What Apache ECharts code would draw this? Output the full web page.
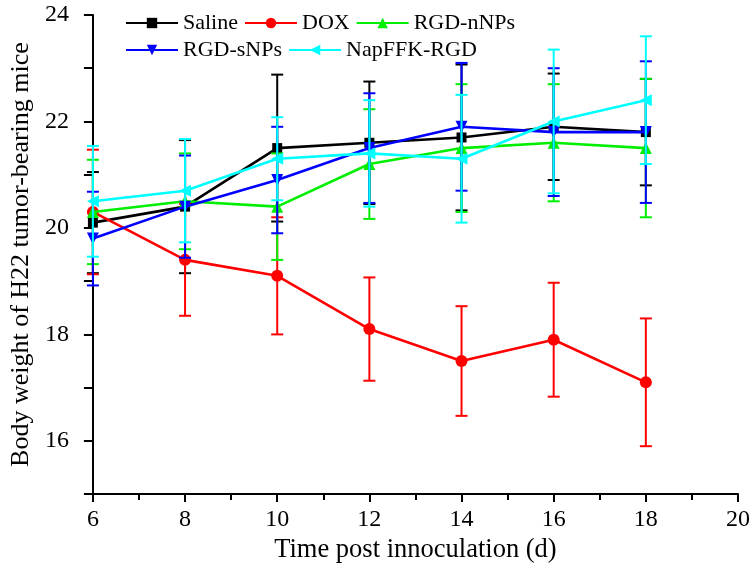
<!DOCTYPE html>
<html>
<head>
<meta charset="utf-8">
<script src="https://cdn.jsdelivr.net/npm/echarts@6/dist/echarts.min.js"></script>
<style>
  html, body { margin: 0; padding: 0; background: #ffffff; }
  #chart { width: 753px; height: 569px; }
</style>
</head>
<body>
<div id="chart"></div>
<script>
// Days after inoculation
var days = [6, 8, 10, 12, 14, 16, 18];

// Mean body weight (g) and standard deviation per group
var saline     = [20.1, 20.4, 21.5, 21.6, 21.7, 21.9, 21.8];
var salineErr  = [0.95, 1.25, 1.38, 1.15, 1.37, 1.0, 1.0];
var dox        = [20.3, 19.4, 19.1, 18.1, 17.5, 17.9, 17.1];
var doxErr     = [1.17, 1.05, 1.1, 0.97, 1.03, 1.07, 1.2];
var rgdN       = [20.3, 20.5, 20.4, 21.2, 21.5, 21.6, 21.5];
var rgdNErr    = [0.98, 0.9, 1.0, 1.03, 1.2, 1.1, 1.3];
var rgdS       = [19.8, 20.4, 20.9, 21.5, 21.9, 21.8, 21.8];
var rgdSErr    = [0.88, 0.96, 1.0, 1.03, 1.2, 1.2, 1.33];
var napffk     = [20.5, 20.7, 21.3, 21.4, 21.3, 22.0, 22.4];
var napffkErr  = [1.04, 0.97, 0.78, 1.0, 1.2, 1.35, 1.2];

var groupNames = ['Saline', 'DOX', 'RGD-nNPs', 'RGD-sNPs', 'NapFFK-RGD'];

var groups = [
  { name: groupNames[0], mean: saline, err: salineErr, color: '#000000', symbol: 'rect', size: 10, rotate: 0 },
  { name: groupNames[1], mean: dox,    err: doxErr,    color: '#ff0000', symbol: 'circle', size: 12, rotate: 0 },
  { name: groupNames[2], mean: rgdN,   err: rgdNErr,   color: '#00ee00', symbol: 'triangle', size: 12, rotate: 0 },
  { name: groupNames[3], mean: rgdS,   err: rgdSErr,   color: '#0000ff', symbol: 'triangle', size: 12, rotate: 180 },
  { name: groupNames[4], mean: napffk, err: napffkErr, color: '#00ffff', symbol: 'triangle', size: 12, rotate: 90 }
];

var serif = '"Liberation Serif", "Times New Roman", serif';

function errorBarRenderer(color) {
  return function (params, api) {
    var x = api.value(0);
    var top = api.coord([x, api.value(2)]);
    var bot = api.coord([x, api.value(1)]);
    var half = 6;
    var style = { stroke: color, lineWidth: 2 };
    return {
      type: 'group',
      children: [
        { type: 'line', shape: { x1: top[0], y1: top[1], x2: bot[0], y2: bot[1] }, style: style },
        { type: 'line', shape: { x1: top[0] - half, y1: top[1], x2: top[0] + half, y2: top[1] }, style: style },
        { type: 'line', shape: { x1: bot[0] - half, y1: bot[1], x2: bot[0] + half, y2: bot[1] }, style: style }
      ]
    };
  };
}

var series = [];
groups.forEach(function (g, i) {
  // mean line with markers
  series.push({
    name: g.name,
    type: 'line',
    z: 3 + i * 2,
    data: days.map(function (d, k) { return [d, g.mean[k]]; }),
    symbol: g.symbol,
    symbolSize: g.size,
    symbolRotate: g.rotate,
    showAllSymbol: true,
    itemStyle: { color: g.color },
    lineStyle: { color: g.color, width: 2.6 },
    animation: false
  });
  // ± SD error bars
  series.push({
    name: g.name + ' SD',
    type: 'custom',
    z: 2 + i * 2,
    itemStyle: { color: g.color },
    renderItem: errorBarRenderer(g.color),
    data: days.map(function (d, k) { return [d, g.mean[k] - g.err[k], g.mean[k] + g.err[k]]; }),
    silent: true
  });
});

var legendText = { fontFamily: serif, fontSize: 22, color: '#000000' };

var option = {
  backgroundColor: '#ffffff',
  animation: false,
  grid: { left: 92, right: 15, top: 15, bottom: 73 },
  legend: [
    {
      data: groupNames.slice(0, 3),
      left: 125, top: 12, padding: 0,
      itemWidth: 52, itemHeight: 13, itemGap: 6,
      textStyle: legendText,
      selectedMode: false
    },
    {
      data: groupNames.slice(3),
      left: 125, top: 39, padding: 0,
      itemWidth: 52, itemHeight: 13, itemGap: 6,
      textStyle: legendText,
      selectedMode: false
    }
  ],
  xAxis: {
    type: 'value',
    min: 6, max: 20, interval: 2,
    name: 'Time post innoculation (d)',
    nameLocation: 'middle',
    nameGap: 41,
    nameTextStyle: { fontFamily: serif, fontSize: 26.5, color: '#000000' },
    axisLine: { show: true, onZero: false, lineStyle: { color: '#000000', width: 2 } },
    axisTick: { show: true, inside: false, length: 8, lineStyle: { color: '#000000', width: 2 } },
    minorTick: { show: true, splitNumber: 2, length: 6, lineStyle: { color: '#000000', width: 2 } },
    axisLabel: { fontFamily: serif, fontSize: 24, color: '#000000', margin: 14 },
    splitLine: { show: false }
  },
  yAxis: {
    type: 'value',
    min: 15, max: 24, interval: 1,
    name: 'Body weight of H22 tumor-bearing mice',
    nameLocation: 'middle',
    nameGap: 58,
    nameTextStyle: { fontFamily: serif, fontSize: 26, color: '#000000' },
    axisLine: { show: true, onZero: false, lineStyle: { color: '#000000', width: 2 } },
    axisTick: { show: true, inside: false, length: 9, lineStyle: { color: '#000000', width: 2 } },
    axisLabel: {
      fontFamily: serif, fontSize: 24, color: '#000000', margin: 24,
      formatter: function (v) { return v % 2 === 0 ? String(v) : ''; }
    },
    splitLine: { show: false }
  },
  series: series
};

var chart = echarts.init(document.getElementById('chart'), null, { renderer: 'canvas' });
chart.setOption(option);
</script>
</body>
</html>
